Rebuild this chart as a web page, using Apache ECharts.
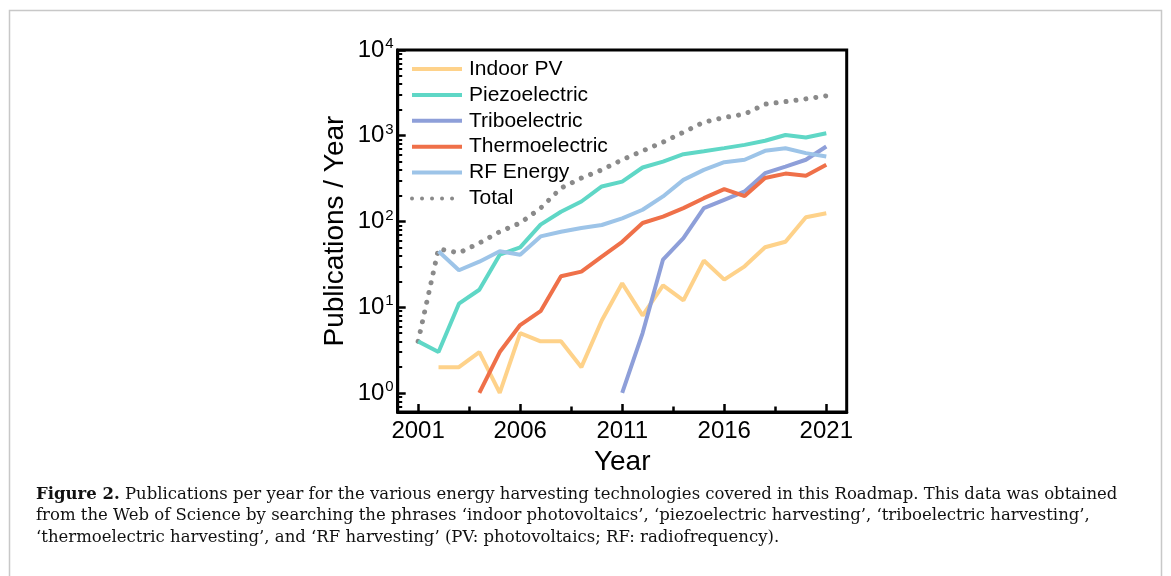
<!DOCTYPE html>
<html>
<head>
<meta charset="utf-8">
<script src="https://cdn.jsdelivr.net/npm/echarts@6/dist/echarts.min.js"></script>
<style>
  html, body { margin: 0; padding: 0; background: #fff; }
  #chart { width: 1171px; height: 576px; }
</style>
</head>
<body>
<div id="chart"></div>
<script>
// data (publications per year, log scale)
var years = [2001, 2002, 2003, 2004, 2005, 2006, 2007, 2008, 2009, 2010, 2011,
             2012, 2013, 2014, 2015, 2016, 2017, 2018, 2019, 2020, 2021];
var indoorPV = [null, 2, 2, 3, 1, 5, 4, 4, 2, 7, 19, 8, 18, 12, 35, 21, 30, 50, 58, 112, 125];
var piezoelectric = [4, 3, 11, 16, 41, 50, 92, 130, 171, 256, 292, 426, 500, 610, 660, 717, 783, 874, 1020, 953, 1070];
var triboelectric = [null, null, null, null, null, null, null, null, null, null, 1, 5, 36, 64, 143, 179, 224, 366, 437, 525, 750];
var thermoelectric = [null, null, null, 1, 3, 6.2, 9, 23, 26, 39, 58, 96, 114, 143, 187, 238, 198, 321, 362, 341, 458];
var rfEnergy = [null, 45, 27, 34, 45, 41, 67, 76, 84, 91, 109, 137, 196, 306, 400, 492, 525, 667, 716, 627, 572];
var total = [4, 48, 43, 56, 76, 96, 143, 245, 321, 400, 525, 666, 841, 1100, 1440, 1630, 1790, 2330, 2500, 2690, 2920];

var xTickLabels = [2001, 2006, 2011, 2016, 2021];
var xMinorTicks = [2003.5, 2008.5, 2013.5, 2018.5];
var yTickLabels = [1, 10, 100, 1000, 10000];

var captionLines = [
  '{b|Figure 2.} Publications per year for the various energy harvesting technologies covered in this Roadmap. This data was obtained',
  'from the Web of Science by searching the phrases \u2018indoor photovoltaics\u2019, \u2018piezoelectric harvesting\u2019, \u2018triboelectric harvesting\u2019,',
  '\u2018thermoelectric harvesting\u2019, and \u2018RF harvesting\u2019 (PV: photovoltaics; RF: radiofrequency).'
];

// log minor ticks 2..9 in each decade
var yMinorTicks = [0.7, 0.8, 0.9];
for (var d = 1; d <= 1000; d *= 10) {
  for (var k = 2; k <= 9; k++) yMinorTicks.push(k * d);
}

function pairs(vals) {
  var out = [];
  for (var i = 0; i < years.length; i++) {
    if (vals[i] != null) out.push([years[i], vals[i]]);
  }
  return out;
}

var font = 'Liberation Sans';
var capFont = 'DejaVu Serif';
var myChart = echarts.init(document.getElementById('chart'));

function lineSeries(name, vals, color) {
  return {
    name: name,
    type: 'line',
    data: pairs(vals),
    symbol: 'none',
    lineStyle: { width: 4, color: color },
    itemStyle: { color: color },
    emphasis: { disabled: true },
    z: 3
  };
}

var series = [
  lineSeries('Indoor PV', indoorPV, '#fed28a'),
  lineSeries('Piezoelectric', piezoelectric, '#5fd7c6'),
  lineSeries('Triboelectric', triboelectric, '#8e9fd9'),
  lineSeries('Thermoelectric', thermoelectric, '#ef7049'),
  lineSeries('RF Energy', rfEnergy, '#9dc4e8'),
  {
    name: 'Total',
    type: 'line',
    data: pairs(total),
    symbol: 'none',
    lineStyle: { width: 5, color: '#8a8a8a', type: [0.01, 10], cap: 'round' },
    itemStyle: { color: '#8a8a8a' },
    emphasis: { disabled: true },
    z: 2
  }
];

var captionGraphics = captionLines.map(function (t, i) {
  return {
    type: 'text',
    left: 36,
    top: 486 + i * 21.6,
    style: {
      text: t,
      font: '16.5px "' + capFont + '"',
      fill: '#111',
      rich: { b: { font: 'bold 16.5px "' + capFont + '"', fill: '#111' } }
    }
  };
});

var option = {
  animation: false,
  backgroundColor: '#fff',
  grid: {
    left: 397.7, right: 324.3, top: 50, bottom: 164,
    show: true, borderColor: '#000', borderWidth: 3, containLabel: false
  },
  legend: {
    orient: 'vertical',
    left: 410, top: 58.5, padding: 0,
    itemWidth: 50, itemHeight: 21, itemGap: 4.9,
    selectedMode: false,
    itemStyle: { opacity: 0 },
    lineStyle: { width: 4 },
    textStyle: { fontFamily: font, fontSize: 21, color: '#000', padding: [0, 0, 0, 2] },
    data: ['Indoor PV', 'Piezoelectric', 'Triboelectric', 'Thermoelectric', 'RF Energy', 'Total']
  },
  xAxis: [{
    type: 'value', min: 2000, max: 2022,
    name: 'Year', nameLocation: 'middle', nameGap: 29,
    nameTextStyle: { fontFamily: font, fontSize: 28, color: '#000' },
    axisLine: { lineStyle: { color: '#000', width: 3 } },
    axisTick: { inside: true, length: 8, lineStyle: { width: 2.5, color: '#000' }, customValues: xTickLabels },
    axisLabel: {
      customValues: xTickLabels, fontFamily: font, fontSize: 24, color: '#000', margin: 7,
      formatter: function (v) { return String(v); }
    },
    splitLine: { show: false }
  }, {
    type: 'value', min: 2000, max: 2022, position: 'bottom',
    axisLine: { show: false },
    axisTick: { inside: true, length: 5.5, lineStyle: { width: 2.5, color: '#000' }, customValues: xMinorTicks },
    axisLabel: { show: false },
    splitLine: { show: false }
  }],
  yAxis: [{
    type: 'log', min: 0.6, max: 10000, logBase: 10,
    name: 'Publications / Year', nameLocation: 'middle', nameGap: 48,
    nameTextStyle: { fontFamily: font, fontSize: 28, color: '#000' },
    axisLine: { lineStyle: { color: '#000', width: 3 } },
    axisTick: { inside: true, length: 8, lineStyle: { width: 2.5, color: '#000' }, customValues: yTickLabels },
    axisLabel: {
      customValues: yTickLabels, margin: 4,
      formatter: function (v) {
        return '{b|10}{s|' + Math.round(Math.log10(v)) + '}';
      },
      rich: {
        b: { fontFamily: font, fontSize: 24, color: '#000' },
        s: { fontFamily: font, fontSize: 15, color: '#000', verticalAlign: 'top', padding: [0, 0, 12, 1] }
      }
    },
    splitLine: { show: false }
  }, {
    type: 'log', min: 0.6, max: 10000, logBase: 10, position: 'left',
    axisLine: { show: false },
    axisTick: { inside: true, length: 4.5, lineStyle: { width: 2, color: '#000' }, customValues: yMinorTicks },
    axisLabel: { show: false },
    splitLine: { show: false }
  }],
  graphic: [{
    type: 'rect',
    shape: { x: 9.5, y: 10.5, width: 1152, height: 620 },
    style: { fill: 'none', stroke: '#c8c8c8', lineWidth: 1.5 },
    silent: true
  }].concat(captionGraphics),
  series: series
};

myChart.setOption(option);
window.addEventListener('resize', function () { myChart.resize(); });
</script>
</body>
</html>
